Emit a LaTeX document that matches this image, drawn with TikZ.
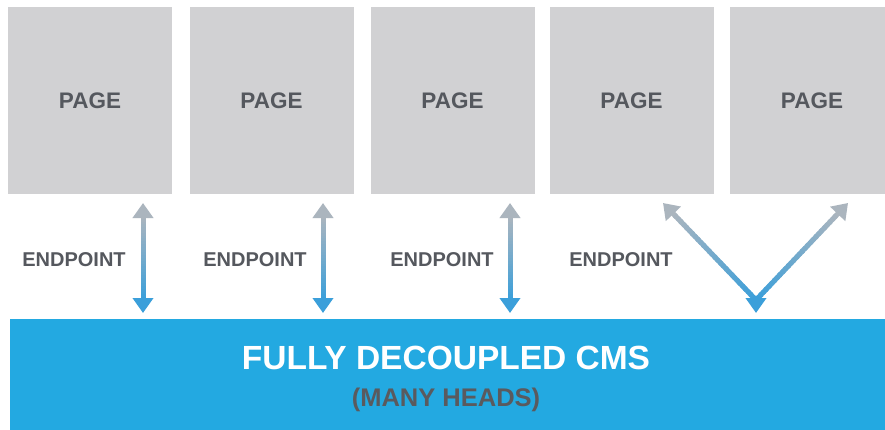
\documentclass[tikz,border=0pt]{standalone}
\usepackage{fontspec}
\setmainfont{Liberation Sans}
\usetikzlibrary{arrows.meta,calc}
\definecolor{pagegrey}{HTML}{D1D1D3}
\definecolor{labelgrey}{HTML}{55585E}
\definecolor{headgrey}{HTML}{5A5A5E}
\definecolor{cmsblue}{HTML}{23A9E1}
\definecolor{tipgrey}{HTML}{ABB5BE}
\definecolor{tipblue}{HTML}{3B9FDA}
\begin{document}
\begin{tikzpicture}[x=1pt,y=-1pt,
  pagebox/.style={fill=pagegrey, minimum width=164pt, minimum height=187pt,
    inner sep=0pt, text=labelgrey, font=\bfseries\fontsize{22.5}{22.5}\selectfont},
  eplabel/.style={text=labelgrey, inner sep=0pt, font=\bfseries\fontsize{20}{20}\selectfont},
  cmsbar/.style={fill=cmsblue, minimum width=900pt, minimum height=130pt, inner sep=0pt, anchor=north west},
  tipgrey arrow/.style={draw=tipgrey, line width=5pt, -{Triangle[length=15pt,width=20pt]}},
  tipblue arrow/.style={draw=tipblue, line width=5pt, -{Triangle[length=15pt,width=20pt]}}]
\clip (0,0) rectangle (885,429);
\fill[white] (0,0) rectangle (885,429);

% pages
\node[pagebox] (p1) at (90,100.5) {PAGE};
\node[pagebox] (p2) at (271.5,100.5) {PAGE};
\node[pagebox] (p3) at (452.5,100.5) {PAGE};
\node[pagebox] (p4) at (631.5,100.5) {PAGE};
\node[pagebox] (p5) at (812,100.5) {PAGE};

% decoupled CMS bar
\node[cmsbar] (cms) at (10,319) {};
\node[text=white, inner sep=0pt, font=\bfseries\fontsize{33.5}{33.5}\selectfont] (cmstitle) at (446,358) {FULLY DECOUPLED CMS};
\node[text=headgrey, inner sep=0pt, font=\bfseries\fontsize{25.5}{25.5}\selectfont] (cmssub) at (446,400) {(MANY HEADS)};

% endpoint labels
\node[eplabel] (e1) at (74,260) {ENDPOINT};
\node[eplabel] (e2) at (255,260) {ENDPOINT};
\node[eplabel] (e3) at (442,260) {ENDPOINT};
\node[eplabel] (e4) at (621,260) {ENDPOINT};

% arrow end points
\coordinate (t1) at (143,203); \coordinate (b1) at (143,313);
\coordinate (t2) at (323,203); \coordinate (b2) at (323,313);
\coordinate (t3) at (510,203); \coordinate (b3) at (510,313);
\coordinate (t4) at (663,203);
\coordinate (t5) at (848,203);
\coordinate (v) at (756,313);
\coordinate (vj) at (756,300);

% straight double arrows with a grey-to-blue shaft
\foreach \k in {1,2,3}{
  \coordinate (s) at ($(t\k)!13pt!(b\k)$);
  \coordinate (e) at ($(b\k)!13pt!(t\k)$);
  \foreach \i in {0,...,29}{
    \pgfmathsetmacro\pc{100*\i/29}
    \pgfmathsetmacro\fa{\i/30}
    \pgfmathsetmacro\fb{min(1,(\i+1.6)/30)}
    \draw[line width=5pt, color={tipblue!\pc!tipgrey}] ($(s)!\fa!(e)$) -- ($(s)!\fb!(e)$);
  }
  \draw[tipgrey arrow] ($(t\k)!15pt!(b\k)$) -- (t\k);
  \draw[tipblue arrow] ($(b\k)!15pt!(t\k)$) -- (b\k);
}

% forked arrow: two grey heads above, one blue head at the joint
\foreach \k in {4,5}{
  \coordinate (s) at ($(t\k)!13pt!(vj)$);
  \foreach \i in {0,...,29}{
    \pgfmathsetmacro\pc{100*\i/29}
    \pgfmathsetmacro\fa{\i/30}
    \pgfmathsetmacro\fb{min(1,(\i+1.6)/30)}
    \draw[line width=5pt, color={tipblue!\pc!tipgrey}] ($(s)!\fa!(vj)$) -- ($(s)!\fb!(vj)$);
  }
  \draw[tipgrey arrow] ($(t\k)!15pt!(vj)$) -- (t\k);
}
\draw[tipblue arrow] (756,296) -- (v);
\end{tikzpicture}
\end{document}
